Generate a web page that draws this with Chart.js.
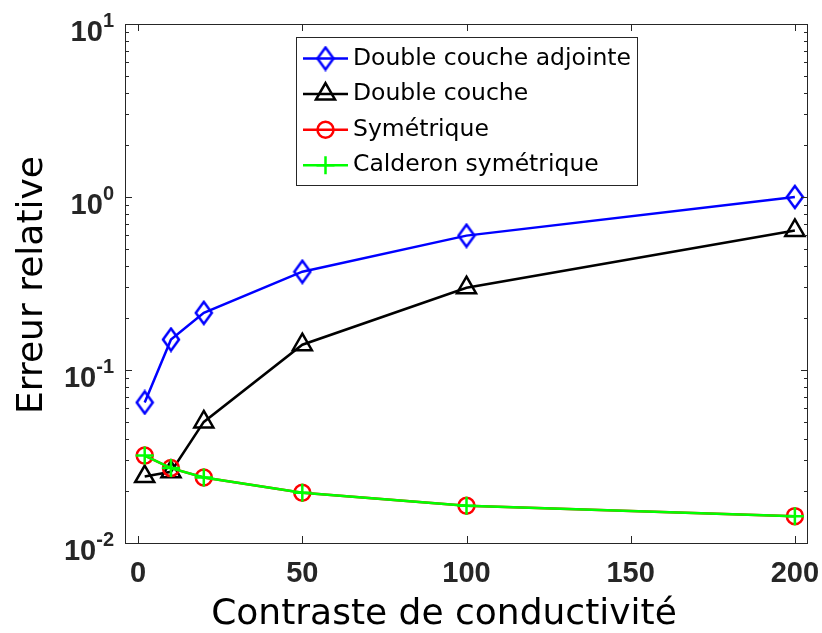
<!DOCTYPE html>
<html>
<head>
<meta charset="utf-8">
<script src="https://cdn.jsdelivr.net/npm/chart.js@4.4.0/dist/chart.umd.min.js"></script>
<style>
  html, body { margin: 0; padding: 0; background: #fff; }
</style>
</head>
<body>
<canvas id="errChart" width="822" height="633"></canvas>
<script>
// data
const contrast = [2, 10, 20, 50, 100, 200];
const errDoubleAdj = [0.0649, 0.150, 0.214, 0.370, 0.598, 1.0];
const errDouble = [0.0242, 0.0258, 0.0501, 0.140, 0.299, 0.641];
const errSym = [0.0320, 0.0271, 0.0239, 0.0195, 0.0164, 0.0143];
const errCalderon = [0.0320, 0.0271, 0.0239, 0.0195, 0.0164, 0.0143];
const seriesNames = ["Double couche adjointe", "Double couche", "Symétrique", "Calderon symétrique"];
const xTicks = [0, 50, 100, 150, 200];
const yDecades = [-2, -1, 0, 1];

const AXIS_COLOR = "#262626";

// tall diamond marker like matlab's 'd'
function makeDiamond(color) {
  const c = document.createElement("canvas");
  c.width = 20;
  c.height = 26;
  const g = c.getContext("2d");
  g.strokeStyle = color;
  g.lineWidth = 2.5;
  g.beginPath();
  g.moveTo(10, 2);
  g.lineTo(18, 13);
  g.lineTo(10, 24);
  g.lineTo(2, 13);
  g.closePath();
  g.stroke();
  return c;
}
const diamond = makeDiamond("#0000ff");

function toPoints(ys) {
  return contrast.map((x, i) => ({ x, y: ys[i] }));
}

const datasets = [
  { label: seriesNames[0], data: toPoints(errDoubleAdj), borderColor: "#0000ff",
    pointStyle: diamond, pointRadius: 10, order: 4 },
  { label: seriesNames[1], data: toPoints(errDouble), borderColor: "#000000",
    pointStyle: "triangle", pointRadius: 11, order: 3 },
  { label: seriesNames[2], data: toPoints(errSym), borderColor: "#ff0000",
    pointStyle: "circle", pointRadius: 8, order: 2 },
  { label: seriesNames[3], data: toPoints(errCalderon), borderColor: "#00ff00",
    pointStyle: "cross", pointRadius: 9, order: 1 },
].map((d) => ({
  ...d,
  borderWidth: 2.5,
  pointBorderWidth: 2.5,
  pointBorderColor: d.borderColor,
  pointBackgroundColor: "rgba(0,0,0,0)",
  tension: 0,
  fill: false,
}));

// box, inward ticks, log labels, titles and legend in matlab style
const matlabAxes = {
  id: "matlabAxes",
  afterDatasetsDraw(chart) {
    const { ctx, chartArea: a } = chart;
    const xs = chart.scales.x;
    const ys = chart.scales.y;
    ctx.save();
    ctx.strokeStyle = AXIS_COLOR;
    ctx.lineWidth = 1;
    ctx.strokeRect(a.left + 0.5, a.top + 0.5, a.right - a.left - 1, a.bottom - a.top);

    ctx.beginPath();
    xs.ticks.forEach((t) => {
      const px = Math.round(xs.getPixelForValue(t.value)) + 0.5;
      ctx.moveTo(px, a.bottom); ctx.lineTo(px, a.bottom - 7);
      ctx.moveTo(px, a.top); ctx.lineTo(px, a.top + 7);
    });
    ys.ticks.forEach((t) => {
      const major = Math.abs(Math.log10(t.value) - Math.round(Math.log10(t.value))) < 1e-9;
      const len = major ? 7 : 4;
      const py = Math.round(ys.getPixelForValue(t.value)) + 0.5;
      ctx.moveTo(a.left, py); ctx.lineTo(a.left + len, py);
      ctx.moveTo(a.right, py); ctx.lineTo(a.right - len, py);
    });
    ctx.stroke();

    // 10^k labels
    ctx.fillStyle = AXIS_COLOR;
    ctx.textAlign = "right";
    ctx.textBaseline = "alphabetic";
    yDecades.forEach((k) => {
      const py = ys.getPixelForValue(Math.pow(10, k));
      const rx = a.left - 11;
      ctx.font = "bold 20px 'Liberation Sans'";
      const exp = String(k);
      const ew = ctx.measureText(exp).width;
      ctx.fillText(exp, rx, py + 2.5);
      ctx.font = "bold 29px 'Liberation Sans'";
      ctx.fillText("10", rx - ew, py + 17);
    });

    // axis titles
    ctx.fillStyle = "#000";
    ctx.font = "36px 'DejaVu Sans'";
    ctx.textAlign = "center";
    ctx.fillText("Contraste de conductivité", 444, 624);
    ctx.save();
    ctx.translate(42, 285);
    ctx.rotate(-Math.PI / 2);
    ctx.fillText("Erreur relative", 0, 0);
    ctx.restore();

    // legend
    const box = { left: 296, top: 37, right: 637, bottom: 185 };
    ctx.fillStyle = "#fff";
    ctx.fillRect(box.left, box.top, box.right - box.left, box.bottom - box.top);
    ctx.strokeStyle = AXIS_COLOR;
    ctx.lineWidth = 1;
    ctx.strokeRect(box.left + 0.5, box.top + 0.5, box.right - box.left, box.bottom - box.top);
    chart.data.datasets.forEach((d, i) => {
      const cy = 58.5 + i * 35.6;
      ctx.strokeStyle = d.borderColor;
      ctx.lineWidth = 2.5;
      ctx.beginPath();
      ctx.moveTo(303, cy);
      ctx.lineTo(348, cy);
      ctx.stroke();
      ctx.fillStyle = "rgba(0,0,0,0)";
      Chart.helpers.drawPoint(ctx, {
        pointStyle: d.pointStyle, radius: d.pointRadius, borderWidth: 2.5, rotation: 0,
      }, 325.5, cy);
      ctx.fillStyle = "#000";
      ctx.font = "23.5px 'DejaVu Sans'";
      ctx.textAlign = "left";
      ctx.fillText(d.label, 353, cy + 6);
    });
    ctx.restore();
  },
};

const ctx = document.getElementById("errChart").getContext("2d");

new Chart(ctx, {
  type: "line",
  data: { datasets },
  plugins: [matlabAxes],
  options: {
    responsive: false,
    animation: false,
    devicePixelRatio: 1,
    layout: { padding: { left: 0, top: 24, right: 14, bottom: 0 } },
    plugins: {
      legend: { display: false },
      tooltip: { enabled: false },
    },
    scales: {
      x: {
        type: "linear",
        min: -4,
        max: 204,
        afterBuildTicks: (s) => { s.ticks = xTicks.map((v) => ({ value: v })); },
        afterFit: (s) => {
          s.height = 90;
          s.paddingLeft = 0;
          s.paddingRight = 0;
        },
        grid: { display: false, drawTicks: false },
        border: { display: false },
        ticks: {
          padding: 14,
          color: AXIS_COLOR,
          font: { family: "'Liberation Sans'", size: 29, weight: "bold" },
          maxRotation: 0,
        },
      },
      y: {
        type: "logarithmic",
        min: 0.01,
        max: 10,
        afterBuildTicks: (s) => {
          const vals = [];
          yDecades.forEach((k) => {
            for (let m = 1; m <= 9; m++) {
              const v = m * Math.pow(10, k);
              if (v <= 10 + 1e-9) vals.push(v);
            }
          });
          s.ticks = vals.map((v) => ({ value: v }));
        },
        afterFit: (s) => {
          s.width = 125;
          s.paddingTop = 0;
          s.paddingBottom = 0;
        },
        grid: { display: false, drawTicks: false },
        border: { display: false },
        ticks: { display: false },
      },
    },
  },
});
</script>
</body>
</html>
